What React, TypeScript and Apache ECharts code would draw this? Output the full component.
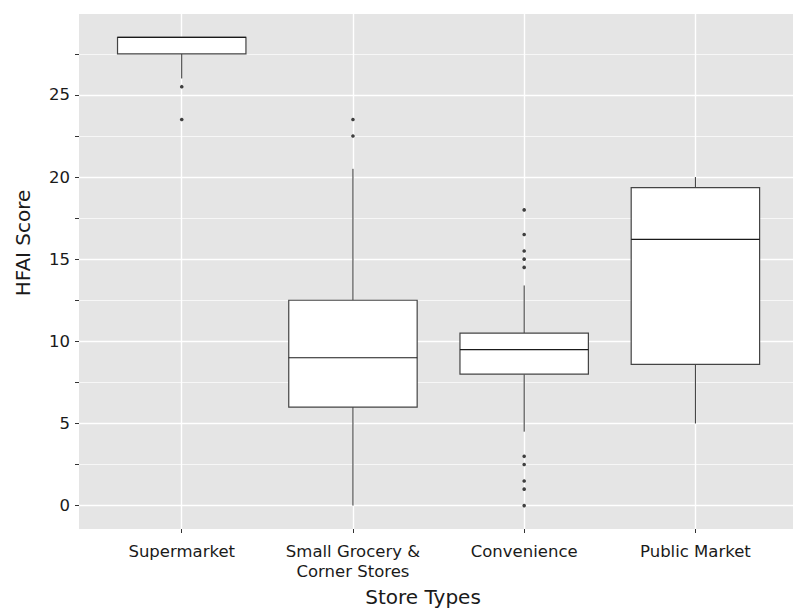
import React, { useEffect, useRef } from "react";
import * as echarts from "echarts";

// ---- data ----
const categories = ["Supermarket", "Small Grocery &\nCorner Stores", "Convenience", "Public Market"];
const whiskerLow = [26, 0, 4.5, 5];
const q1 = [27.5, 6, 8, 8.6];
const median = [28.5, 9, 9.5, 16.2];
const q3 = [28.5, 12.5, 10.5, 19.35];
const whiskerHigh = [28.5, 20.5, 13.4, 20];
const outliers: number[][] = [
  [25.5, 23.5],
  [22.5, 23.5],
  [18, 16.5, 15.5, 15, 14.5, 3, 2.5, 1.5, 1, 0],
  [],
];
const yMajorTicks = [0, 5, 10, 15, 20, 25];
const yMinorTicks = [2.5, 7.5, 12.5, 17.5, 22.5, 27.5];
const xTitle = "Store Types";
const yTitle = "HFAI Score";

const FONT = "DejaVu Sans";

export default function App() {
  const ref = useRef<HTMLDivElement>(null);
  useEffect(() => {
    document.body.style.margin = "0";
    const chart = echarts.init(ref.current!, null, { renderer: "svg" });

    const boxData = categories.map((_, i) => [i, whiskerLow[i], q1[i], median[i], q3[i], whiskerHigh[i]]);
    const outlierData: number[][] = [];
    outliers.forEach((arr, i) => arr.forEach((v) => outlierData.push([i, v])));
    const catIdx = categories.map((_, i) => i);

    const stroke = "#333333";

    const option: any = {
      animation: false,
      backgroundColor: "#ffffff",
      grid: {
        left: 79,
        top: 14,
        right: 0,
        height: 515,
        show: true,
        backgroundColor: "#E5E5E5",
        borderWidth: 0,
        containLabel: false,
      },
      xAxis: {
        type: "value",
        min: -0.6,
        max: 3.57,
        axisLine: { show: false, onZero: false },
        axisTick: { show: true, length: 4, customValues: catIdx, lineStyle: { color: "#333333", width: 1 } },
        axisLabel: {
          customValues: catIdx,
          formatter: (v: number) => categories[Math.round(v)] ?? "",
          color: "#1a1a1a",
          fontFamily: FONT,
          fontSize: 16.5,
          lineHeight: 20,
          margin: 12,
        },
        splitLine: { show: true, lineStyle: { color: "#ffffff", width: 1.4 } },
      },
      yAxis: [
        {
          type: "value",
          min: -1.425,
          max: 29.925,
          axisLine: { show: false, onZero: false },
          axisTick: { show: true, length: 4, customValues: yMajorTicks, lineStyle: { color: "#333333", width: 1 } },
          axisLabel: {
            customValues: yMajorTicks,
            formatter: (v: number) => String(v),
            color: "#1a1a1a",
            fontFamily: FONT,
            fontSize: 16.5,
            margin: 9,
          },
          splitLine: { show: true, lineStyle: { color: "#ffffff", width: 1.4 } },
        },
        {
          type: "value",
          min: -1.425,
          max: 29.925,
          position: "left",
          axisLine: { show: false, onZero: false },
          axisTick: { show: true, length: 4, customValues: yMinorTicks, lineStyle: { color: "#333333", width: 1 } },
          axisLabel: { show: false },
          splitLine: { show: true, lineStyle: { color: "#ffffff", width: 0.7 } },
        },
      ],
      series: [
        {
          type: "custom",
          xAxisIndex: 0,
          yAxisIndex: 0,
          data: boxData,
          renderItem: (params: any, api: any) => {
            const x = api.value(0);
            const pLow = api.coord([x, api.value(1)]);
            const pQ1 = api.coord([x, api.value(2)]);
            const pMed = api.coord([x, api.value(3)]);
            const pQ3 = api.coord([x, api.value(4)]);
            const pHigh = api.coord([x, api.value(5)]);
            const w = api.size([0.75, 0])[0];
            const cx = pQ1[0];
            const children: any[] = [];
            if (pHigh[1] < pQ3[1] - 0.01) {
              children.push({
                type: "line",
                shape: { x1: cx, y1: pQ3[1], x2: cx, y2: pHigh[1] },
                style: { stroke, lineWidth: 1 },
              });
            }
            if (pLow[1] > pQ1[1] + 0.01) {
              children.push({
                type: "line",
                shape: { x1: cx, y1: pQ1[1], x2: cx, y2: pLow[1] },
                style: { stroke, lineWidth: 1 },
              });
            }
            children.push({
              type: "rect",
              shape: { x: cx - w / 2, y: pQ3[1], width: w, height: pQ1[1] - pQ3[1] },
              style: { fill: "#ffffff", stroke: "#444444", lineWidth: 1.2 },
            });
            children.push({
              type: "line",
              shape: { x1: cx - w / 2, y1: pMed[1], x2: cx + w / 2, y2: pMed[1] },
              style: { stroke: "#1a1a1a", lineWidth: 1.2 },
            });
            return { type: "group", children };
          },
          z: 2,
        },
        {
          type: "scatter",
          xAxisIndex: 0,
          yAxisIndex: 0,
          data: outlierData,
          symbol: "circle",
          symbolSize: 3.6,
          itemStyle: { color: "#111111" },
          z: 3,
        },
      ],
      graphic: [
        {
          type: "text",
          x: 423,
          y: 597,
          style: {
            text: xTitle,
            fontFamily: FONT,
            fontSize: 20,
            fill: "#1a1a1a",
            textAlign: "center",
            textVerticalAlign: "middle",
          },
        },
        {
          type: "text",
          x: 23,
          y: 243,
          rotation: Math.PI / 2,
          style: {
            text: yTitle,
            fontFamily: FONT,
            fontSize: 20,
            fill: "#1a1a1a",
            textAlign: "center",
            textVerticalAlign: "middle",
          },
        },
      ],
    };
    chart.setOption(option);
    return () => chart.dispose();
  }, []);
  return <div ref={ref} style={{ width: 793, height: 608 }} />;
}
